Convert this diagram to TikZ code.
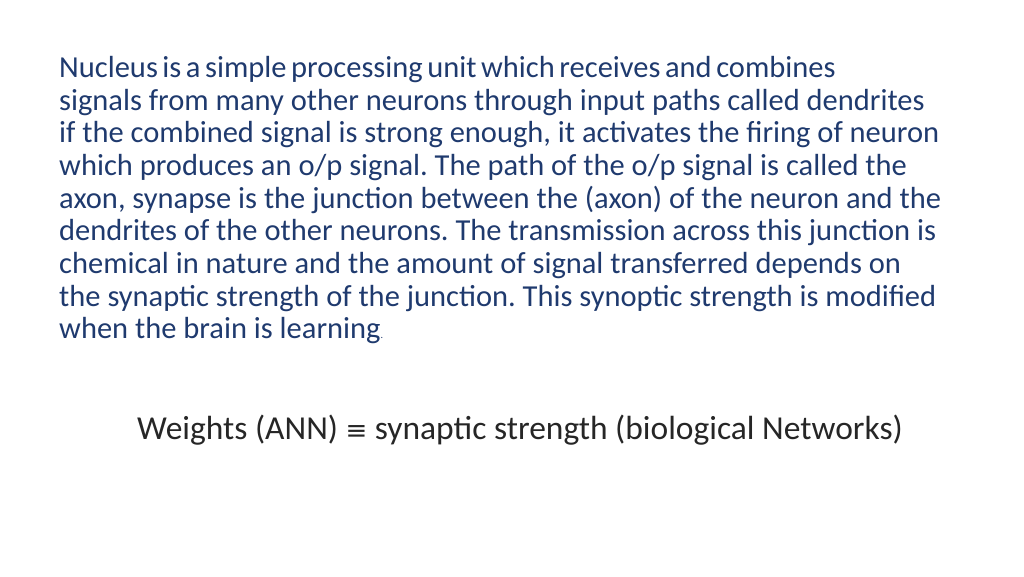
\documentclass[tikz,border=0pt]{standalone}
\usepackage{fontspec}
\setmainfont{Carlito}
\newfontfamily\symfont{DejaVu Sans}
\usetikzlibrary{positioning}
\definecolor{slideblue}{HTML}{1F3A6E}
\definecolor{slidegray}{HTML}{262626}
\tikzset{bodytext/.style={anchor=north west, inner sep=0pt, align=left, text=slideblue,
    font=\fontsize{30.5}{32.7}\selectfont},
  eqtext/.style={inner sep=0pt, text=slidegray, font=\fontsize{33.5}{36}\selectfont}}
\begin{document}
\frenchspacing
\begin{tikzpicture}[x=1pt,y=1pt]
    \useasboundingbox (0,0) rectangle (1024,576);
    \node [bodytext] (para) at (59,520) {\spaceskip=0.15em plus 0.05em
Nucleus is a simple processing unit which receives and combines\\
signals from many other neurons through input paths called dendrites\\
if the combined signal is strong enough, it activates the firing of neuron\\
which produces an o/p signal. The path of the o/p signal is called the\\
axon, synapse is the junction between the (axon) of the neuron and the\\
dendrites of the other neurons. The transmission across this junction is\\
chemical in nature and the amount of signal transferred depends on\\
the synaptic strength of the junction. This synoptic strength is modified\\
when the brain is learning{\fontsize{10}{10}\selectfont .}};
    \node [eqtext] (weights) at (520,146) {Weights (ANN) {\symfont\fontsize{26}{26}\selectfont ≡} synaptic strength (biological Networks)};
\end{tikzpicture}
\end{document}
